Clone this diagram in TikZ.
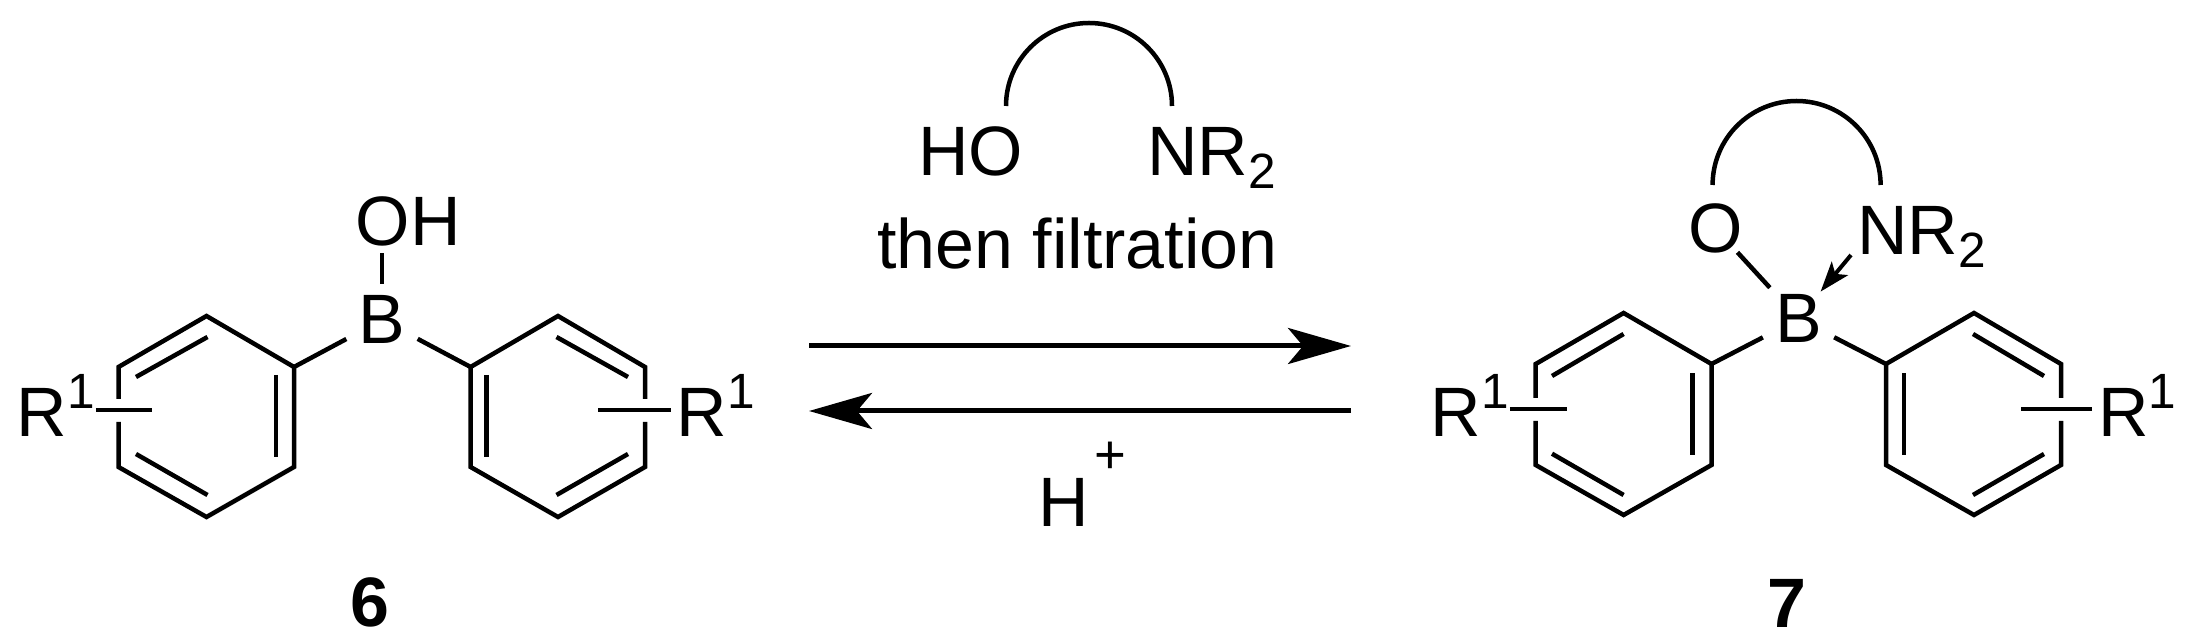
\documentclass[tikz,border=0pt]{standalone}
\usepackage{fontspec}
\setmainfont{Liberation Sans}
\usetikzlibrary{arrows.meta}
\newcommand{\supone}{\raisebox{16.4pt}{\fontsize{28.2}{30}\selectfont 1}\kern-3pt}
\newcommand{\subtwo}{\raisebox{-7.4pt}{\fontsize{28.2}{30}\selectfont 2}}
\newcommand{\supplus}{\kern3pt\raisebox{30.6pt}{\fontsize{31}{33}\selectfont +}}
\tikzset{
  atom/.style={inner sep=0.12cm,anchor=base west},
  boron/.style={inner sep=0.24cm,anchor=base},
  oxygen/.style={inner sep=0.04cm,anchor=base},
  compound/.style={inner sep=0.12cm,anchor=base,font=\fontsize{39.8}{42}\selectfont\bfseries},
  bond/.style={line width=0.09cm},
  rxnarrow/.style={line width=0.1cm,-{Stealth[length=1.26cm,width=0.72cm,inset=0.3cm]}},
  dative/.style={line width=0.08cm,-{Stealth[length=0.6cm,width=0.42cm,inset=0.14cm]}}
}
\begin{document}
\begin{tikzpicture}[x=0.02cm,y=-0.02cm,font=\fontsize{39.8}{42}\selectfont]
  \useasboundingbox (0,0) rectangle (2188,644);
  \path
    (206.5,316) coordinate (a1)
    (294,367) coordinate (a2)
    (294,467) coordinate (a3)
    (206.5,517) coordinate (a4)
    (118.5,467) coordinate (a5)
    (118.5,367) coordinate (a6)
    (118.5,399) coordinate (a7)
    (118.5,422) coordinate (a8)
    (151.5,410) coordinate (a9)
    (136,377) coordinate (ai1)
    (207.5,337) coordinate (ai2)
    (276,375) coordinate (ai3)
    (276,457) coordinate (ai4)
    (136,454) coordinate (ai5)
    (207.5,495) coordinate (ai6)
    (558,316) coordinate (b1)
    (645,367) coordinate (b2)
    (645,467) coordinate (b3)
    (558,517) coordinate (b4)
    (470.6,467) coordinate (b5)
    (470.6,367) coordinate (b6)
    (645,399) coordinate (b7)
    (645,422) coordinate (b8)
    (598,410) coordinate (b9)
    (556.5,337) coordinate (bi1)
    (628,377) coordinate (bi2)
    (486.7,375) coordinate (bi3)
    (486.7,457) coordinate (bi4)
    (628,454) coordinate (bi5)
    (556.5,495) coordinate (bi6)
    (1623.6,313) coordinate (c1)
    (1711.5,364) coordinate (c2)
    (1711.5,465) coordinate (c3)
    (1623.6,515) coordinate (c4)
    (1535.7,465) coordinate (c5)
    (1535.7,364) coordinate (c6)
    (1535.7,398) coordinate (c7)
    (1535.7,421) coordinate (c8)
    (1567,409) coordinate (c9)
    (1552,376) coordinate (ci1)
    (1623.6,334) coordinate (ci2)
    (1692.5,373.5) coordinate (ci3)
    (1692.5,455.4) coordinate (ci4)
    (1552,453.7) coordinate (ci5)
    (1623.6,495) coordinate (ci6)
    (1974,313) coordinate (d1)
    (2061,364) coordinate (d2)
    (2061,465) coordinate (d3)
    (1974,515) coordinate (d4)
    (1886,465) coordinate (d5)
    (1886,364) coordinate (d6)
    (2061,398) coordinate (d7)
    (2061,421) coordinate (d8)
    (2020.6,409) coordinate (d9)
    (1973,334) coordinate (di1)
    (2044,376) coordinate (di2)
    (1904,373.5) coordinate (di3)
    (1904,455.4) coordinate (di4)
    (2044,454) coordinate (di5)
    (1973,495) coordinate (di6)
    (809,346) coordinate (fwdstart)
    (1351,346) coordinate (fwdend)
    (1351,411) coordinate (revstart)
    (809,411) coordinate (revend)
    (1006,106) coordinate (arcleft)
    (1712.6,185) coordinate (ringleft)
    (1820.6,291.6) coordinate (dativetip);
  \node[boron] (boh) at (382,344) {B};
  \node[atom] (oh) at (349.5,246) {OH};
  \node[atom] (rleft) at (10.5,437) {R\supone};
  \node[atom] (rright) at (670.5,437) {R\supone};
  \node[boron] (bo) at (1798.5,343) {B};
  \node[oxygen] (ox) at (1716,253) {O};
  \node[atom] (nrprod) at (1851,255) {NR\subtwo};
  \node[atom] (rleftprod) at (1424.5,437) {R\supone};
  \node[atom] (rrightprod) at (2092,437) {R\supone};
  \node[atom] (ho) at (912,176) {HO};
  \node[atom] (nr) at (1141,176) {NR\subtwo};
  \node[anchor=base,inner sep=0.12cm] (then) at (1077.5,269) {then filtration};
  \node[atom] (hplus) at (1032.5,527) {H\supplus};
  \node[compound] (six) at (369.5,627) {6};
  \node[compound] (seven) at (1787,628) {7};
  \begin{scope}[bond]
    \draw (a7) -- (a6) -- (a1) -- (a2) -- (a3) -- (a4) -- (a5) -- (a8);
    \draw (b7) -- (b2) -- (b1) -- (b6) -- (b5) -- (b4) -- (b3) -- (b8);
    \draw (c7) -- (c6) -- (c1) -- (c2) -- (c3) -- (c4) -- (c5) -- (c8);
    \draw (d7) -- (d2) -- (d1) -- (d6) -- (d5) -- (d4) -- (d3) -- (d8);
    \draw (ai1) -- (ai2);
    \draw (ai3) -- (ai4);
    \draw (ai5) -- (ai6);
    \draw (bi1) -- (bi2);
    \draw (bi3) -- (bi4);
    \draw (bi5) -- (bi6);
    \draw (ci1) -- (ci2);
    \draw (ci3) -- (ci4);
    \draw (ci5) -- (ci6);
    \draw (di1) -- (di2);
    \draw (di3) -- (di4);
    \draw (di5) -- (di6);
    \draw (boh) -- (a2);
    \draw (boh) -- (b6);
    \draw (boh) -- (boh |- oh.south);
    \draw (rleft.east |- a9) -- (a9);
    \draw (rright.west |- b9) -- (b9);
    \draw (bo) -- (c2);
    \draw (bo) -- (d6);
    \draw[shorten <=-0.1cm,shorten >=-0.14cm] (ox) -- (bo);
    \draw (rleftprod.east |- c9) -- (c9);
    \draw (rrightprod.west |- d9) -- (d9);
    \draw (arcleft) arc[start angle=180,end angle=360,radius=83];
    \draw (ringleft) arc[start angle=180,end angle=360,radius=84];
  \end{scope}
  \draw[dative] (nrprod.base west) -- (dativetip);
  \draw[rxnarrow] (fwdstart) -- (fwdend);
  \draw[rxnarrow] (revstart) -- (revend);
\end{tikzpicture}
\end{document}
